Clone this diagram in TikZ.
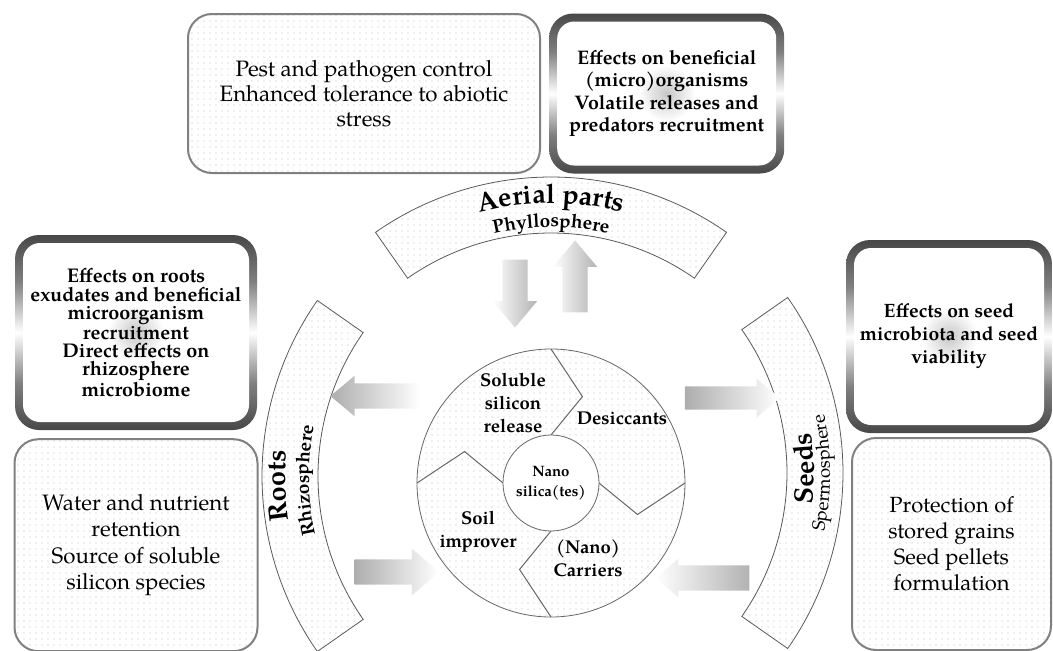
\documentclass[tikz,border=0pt]{standalone}
\usepackage{fontspec}
\setmainfont{TeX Gyre Pagella}
\usepackage{tikz}
\usetikzlibrary{shapes.arrows, patterns.meta, decorations.text, positioning}

\pgfdeclareverticalshading{gloss}{100bp}{color(0bp)=(black!72); color(25bp)=(black!72); color(37bp)=(black!50); color(50bp)=(white); color(63bp)=(black!50); color(75bp)=(black!72); color(100bp)=(black!72)}

\newcommand{\arctitle}{\bfseries\fontsize{27}{27}\selectfont}
\newcommand{\arcsub}{\bfseries\fontsize{19}{19}\selectfont}
\newcommand{\arcsubreg}{\fontsize{18.5}{18.5}\selectfont}

\begin{document}
\begin{tikzpicture}[x=1pt, y=1pt]
\tikzstyle{dotbox} = [rectangle, rounded corners=24pt, draw=black!50, line width=2pt, pattern={Dots[distance=6pt, radius=0.6pt]}, pattern color=black!28, align=center, font=\fontsize{22.3}{25}\selectfont]
\tikzstyle{glossbox} = [rectangle, rounded corners=24pt, shade, shading=gloss, align=center, font=\bfseries\fontsize{19.6}{22.5}\selectfont, path picture={
    \fill[white, rounded corners=17pt] ([shift={(8pt,8pt)}]path picture bounding box.south west) rectangle ([shift={(-8pt,-8pt)}]path picture bounding box.north east);
    \shade[inner color=black!22, outer color=white] (path picture bounding box.center) circle (28pt);}]
\tikzstyle{band} = [draw=black!65, line width=0.8pt, pattern={Dots[distance=6pt, radius=0.6pt]}, pattern color=black!28]
\tikzstyle{sector} = [align=center, font=\bfseries\fontsize{18.5}{23}\selectfont]
\tikzstyle{blockarrow} = [single arrow, draw=none, inner xsep=0pt, inner ysep=12.5pt, single arrow head extend=9.5pt, single arrow tip angle=80]
\tikzstyle{fadehead} = [left color=black!32, right color=white]
\tikzstyle{fadetail} = [left color=white, right color=black!30]

\useasboundingbox (0,0) rectangle (1053,-651);

\coordinate (ctop) at (551,-483);
\coordinate (croot) at (568,-476);
\coordinate (cseed) at (537,-473);

% the three bands round the hub
\draw[band] ([shift={(55:306)}]ctop) arc[start angle=55, end angle=125, radius=306] -- ([shift={(125:250)}]ctop) arc[start angle=125, end angle=55, radius=250] -- cycle;
\draw[band] ([shift={(145:306)}]croot) arc[start angle=145, end angle=215, radius=306] -- ([shift={(215:250)}]croot) arc[start angle=215, end angle=145, radius=250] -- cycle;
\draw[band] ([shift={(-35:306)}]cseed) arc[start angle=-35, end angle=35, radius=306] -- ([shift={(35:250)}]cseed) arc[start angle=35, end angle=-35, radius=250] -- cycle;

\path[decorate, decoration={text along path, text align=center, text={|\arctitle|Aerial parts}}] ([shift={(125:280)}]ctop) arc[start angle=125, end angle=55, radius=280];
\path[decorate, decoration={text along path, text align=center, text={|\arcsub|Phyllosphere}}] ([shift={(125:256)}]ctop) arc[start angle=125, end angle=55, radius=256];
\path[decorate, decoration={text along path, text align=center, text={|\arctitle|Roots}}] ([shift={(217:283)}]croot) arc[start angle=217, end angle=147, radius=283];
\path[decorate, decoration={text along path, text align=center, text={|\arcsub|Rhizosphere}}] ([shift={(216:259)}]croot) arc[start angle=216, end angle=146, radius=259];
\path[decorate, decoration={text along path, text align=center, text={|\arctitle|Seeds}}] ([shift={(-34:277)}]cseed) arc[start angle=-34, end angle=36, radius=277];
\path[decorate, decoration={text along path, text align=center, text={|\arcsubreg|Spermosphere}}] ([shift={(-35:293)}]cseed) arc[start angle=-35, end angle=35, radius=293];

% hub and its four parts
\node (hub) [circle, minimum size=268, draw=black!60, line width=0.8pt, pattern={Dots[distance=6pt, radius=0.6pt]}, pattern color=black!28] at (551,-483) {};
\foreach \a in {90,0,-90,180}
  \draw[black!60, line width=1pt] ([shift={(\a:48)}]hub.center) -- ([shift={(\a-20:92)}]hub.center) -- ([shift={(\a:134)}]hub.center);
\node (core) [circle, minimum size=96, draw=black!60, line width=0.8pt, fill=white, align=center, font=\bfseries\fontsize{15}{20}\selectfont] at (hub.center) {Nano\\silica(tes)};

\node (soluble) [sector] at (513,-403) {Soluble\\silicon\\release};
\node (desicc) [sector] at (622,-418) {Desiccants};
\node (soil) [sector] at (478,-532) {Soil\\improver};
\node (carrier) [sector] at (588,-558) {(Nano)\\Carriers};

% block arrows
\node (aerialin) [blockarrow, fadetail, minimum height=68, rotate=270] at (515,-286) {};
\node (aerialout) [blockarrow, fadetail, minimum height=72, rotate=90] at (575,-284) {};
\node (rootsout) [blockarrow, fadehead, minimum height=90, single arrow head extend=7.5, rotate=180] at (383,-396) {};
\node (rootsin) [blockarrow, fadehead, minimum height=85, single arrow head extend=10.5] at (389.5,-572) {};
\node (seedsout) [blockarrow, fadehead, minimum height=95, inner ysep=11.5, single arrow head extend=8] at (725.5,-398) {};
\node (seedsin) [blockarrow, fadetail, minimum height=94, single arrow head extend=6.5, rotate=180] at (710,-578) {};

% boxes
\node (pestbox) [dotbox, minimum width=352, minimum height=159] at (364,-93.5) {Pest and pathogen control\\Enhanced tolerance to abiotic\\stress};
\node (benefbox) [glossbox, minimum width=235, minimum height=160, right=8 of pestbox] {Effects on beneficial\\(micro)organisms\\Volatile releases and\\predators recruitment};
\node (rootfxbox) [glossbox, minimum width=242, minimum height=195, font=\bfseries\fontsize{19.8}{18.4}\selectfont] at (136,-332.5) {Effects on roots\\exudates and beneficial\\microorganism\\recruitment\\Direct effects on\\rhizosphere\\microbiome};
\node (waterbox) [dotbox, minimum width=243, minimum height=212, font=\fontsize{22.3}{26.5}\selectfont, below=8 of rootfxbox] {Water and nutrient\\retention\\Source of soluble\\silicon species};
\node (seedfxbox) [glossbox, minimum width=206, minimum height=193, font=\bfseries\fontsize{19.3}{23}\selectfont] at (949,-336.5) {Effects on seed\\microbiota and seed\\viability};
\node (grainbox) [dotbox, minimum width=199, minimum height=212, font=\fontsize{22}{26}\selectfont] at (951.5,-544) {Protection of\\stored grains\\Seed pellets\\formulation};
\end{tikzpicture}
\end{document}
